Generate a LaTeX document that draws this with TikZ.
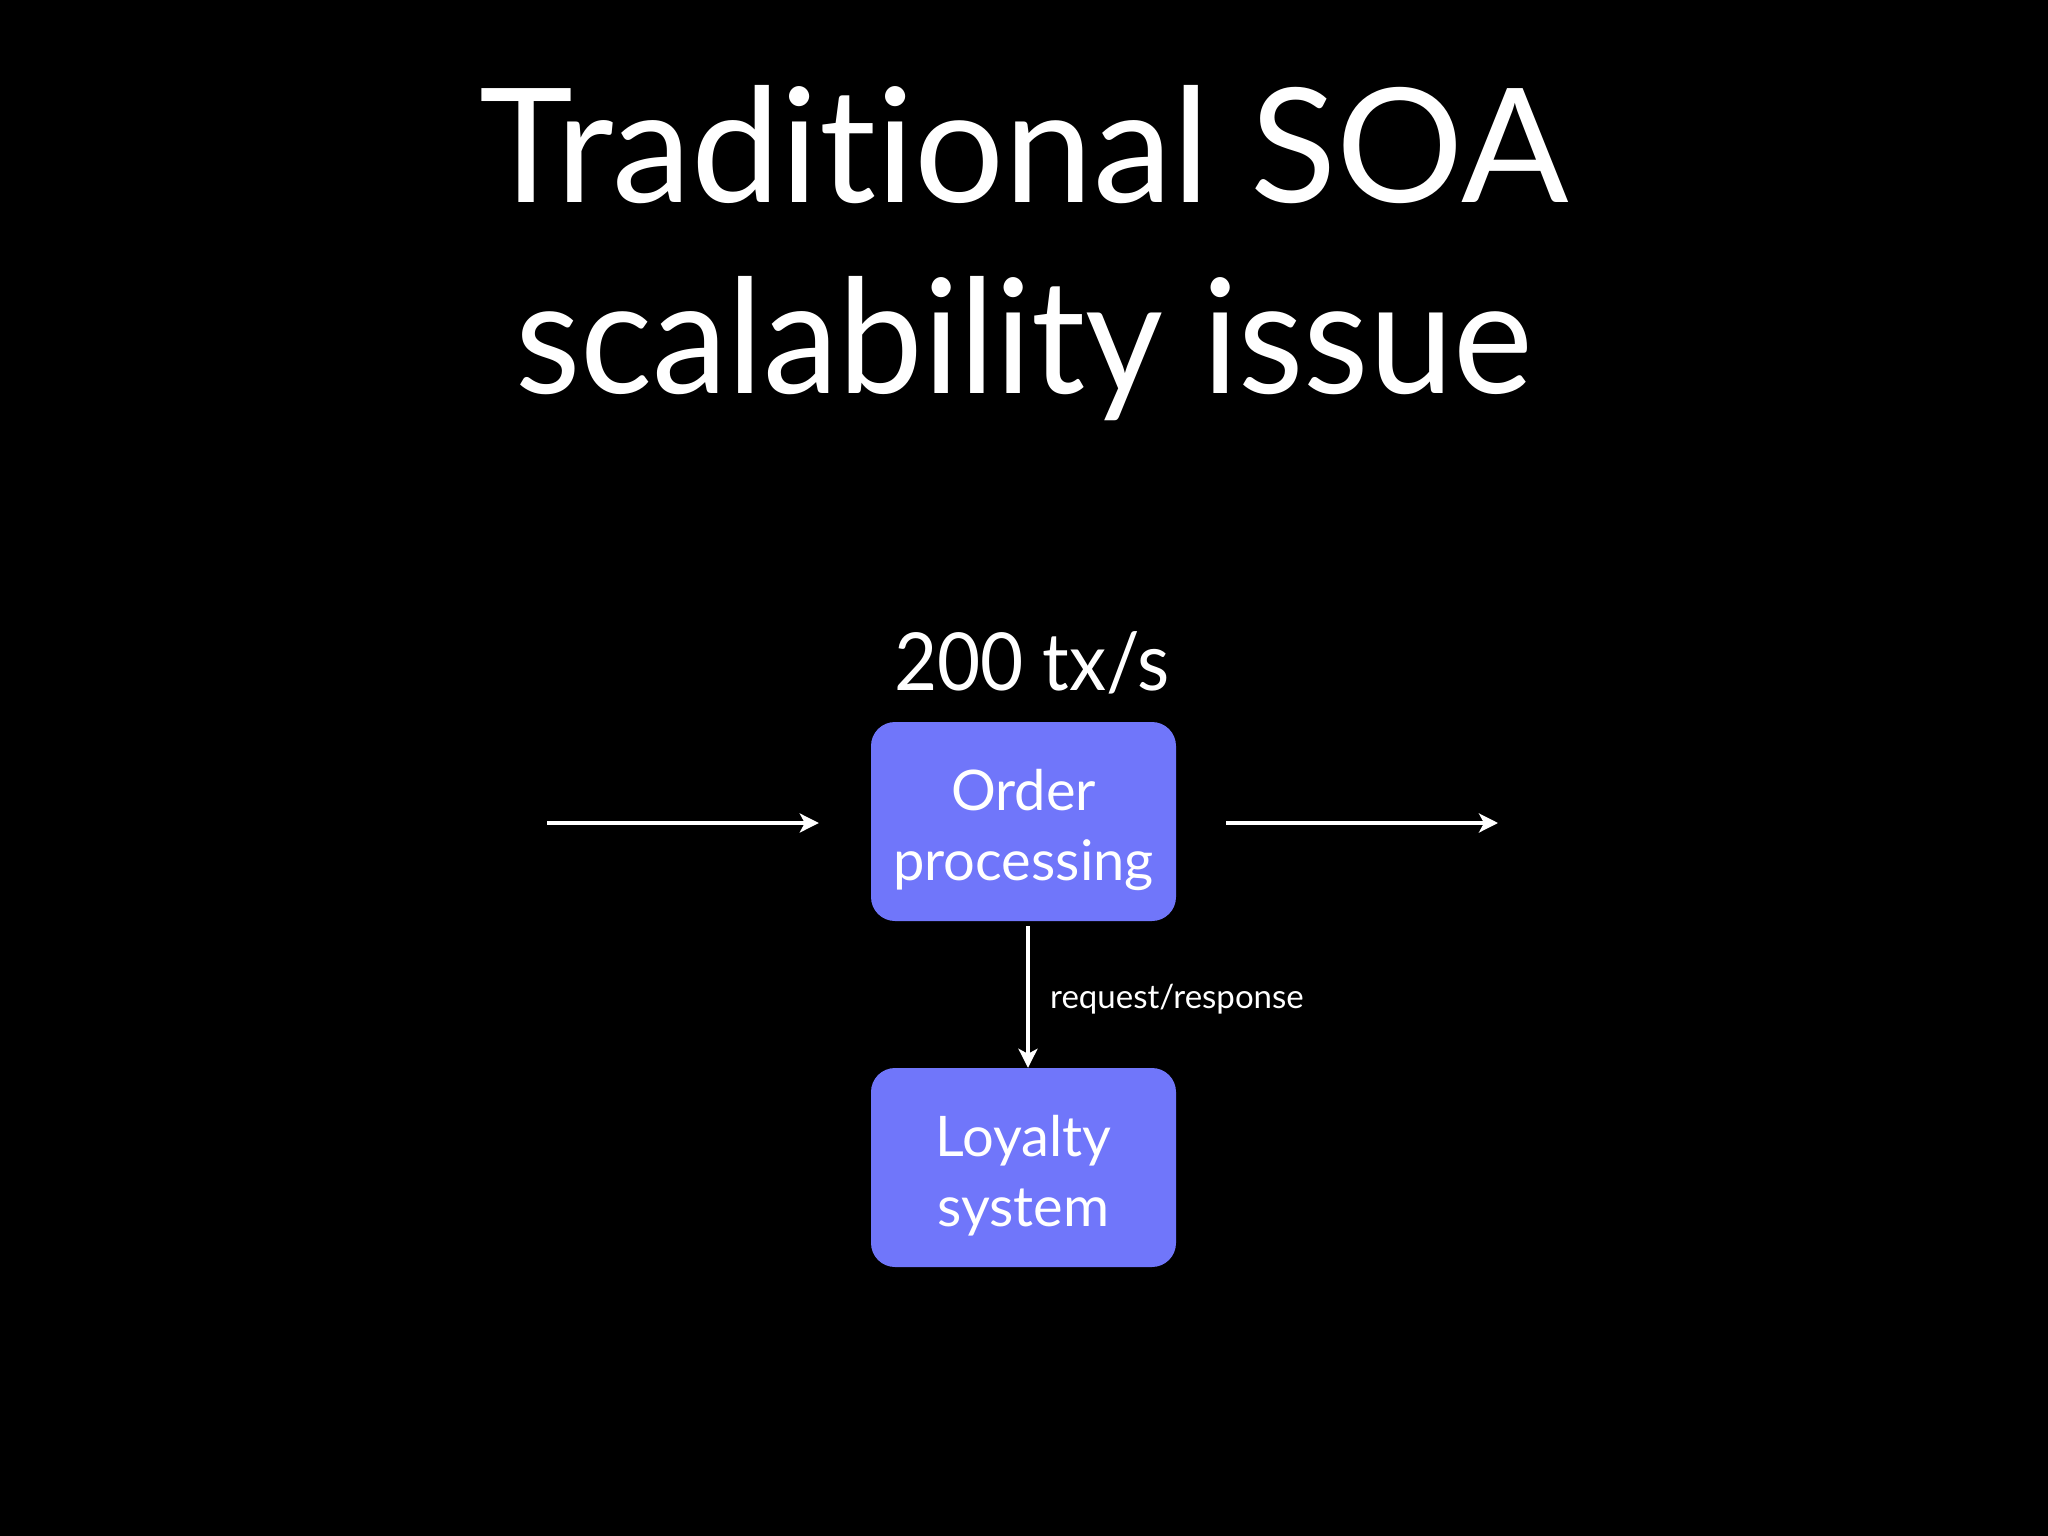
\documentclass[tikz,border=0pt]{standalone}
\usepackage{fontspec}
\setmainfont{Lato}[Ligatures={NoCommon}]
\usetikzlibrary{arrows.meta}
\definecolor{boxblue}{RGB}{112,118,250}
\tikzset{
  title/.style={text=white, anchor=base, inner sep=0pt, font=\fontsize{159}{190}\selectfont},
  rate/.style={text=white, anchor=base, inner sep=0pt, font=\fontsize{80}{96}\selectfont},
  sysbox/.style={fill=boxblue, draw=none, rounded corners=24pt, minimum width=305pt, minimum height=199pt,
    text=white, inner sep=0pt, font=\fontsize{56}{70}\selectfont},
  arr/.style={draw=white, line width=4pt, -{Stealth[length=19pt, width=19pt, inset=5pt]}},
  small/.style={text=white, anchor=base west, inner sep=0pt, font=\fontsize{33}{40}\selectfont}
}
\newcommand{\boxlines}[2]{\raisebox{-16pt}[0pt][0pt]{\begin{tabular}{@{}c@{}}#1\\#2\end{tabular}}}
\begin{document}
\begin{tikzpicture}[x=1pt, y=-1pt]
\useasboundingbox (0,0) rectangle (2048,1536);
\fill[black] (0,0) rectangle (2048,1536);
\node[title] (t1) at (1024,202) {Traditional SOA};
\node[title] (t2) at (1024,393) {\scalebox{0.95}[1]{scalability issue}};
\node[rate] (r) at (1032,690) {\scalebox{0.93}[1]{200 tx/s}};
\node[sysbox] (o) at (1023.5,821.5) {\boxlines{Order}{processing}};
\node[sysbox] (l) at (1023.5,1167.5) {\boxlines{Loyalty}{system}};
\coordinate (in) at (547,823);
\coordinate (out) at (1498,823);
\draw[arr, shorten >=52pt] (in) -- (in -| o.west);
\draw[arr, shorten <=50pt] (out -| o.east) -- (out);
\draw[arr, shorten <=5pt] ([xshift=4.5pt]o.south) -- ([xshift=4.5pt]l.north);
\node[small] (lab) at (1050,1008) {request/response};
\end{tikzpicture}
\end{document}
